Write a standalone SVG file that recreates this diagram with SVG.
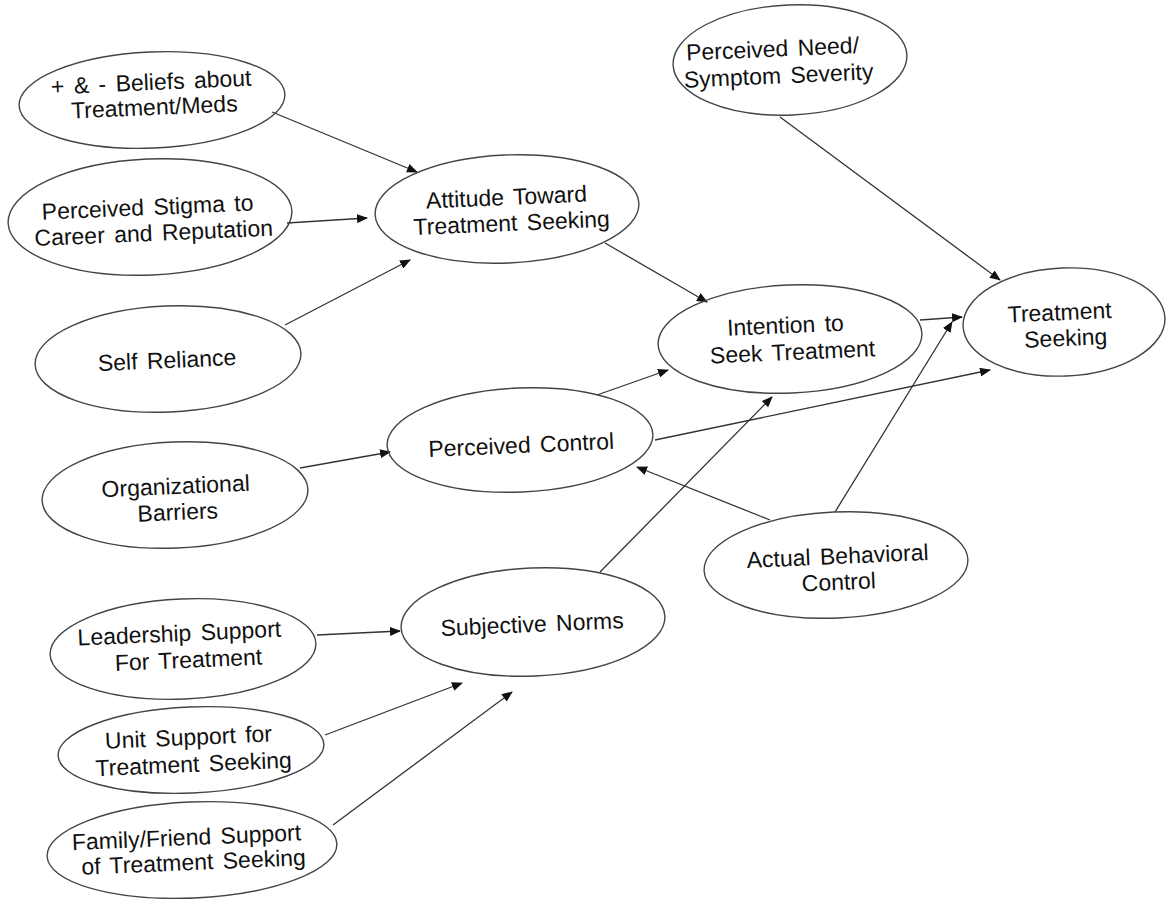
<svg xmlns="http://www.w3.org/2000/svg" width="1171" height="899" viewBox="0 0 1171 899">
<style>
.n ellipse{fill:none;stroke:#444;stroke-width:1.4}
.n text{font-family:"Liberation Sans",Arial,sans-serif;font-size:23px;fill:#111;text-anchor:middle;word-spacing:3px}
.e line{stroke:#333;stroke-width:1.3;marker-end:url(#ah)}
</style>
<defs>
<marker id="ah" markerUnits="userSpaceOnUse" markerWidth="11" markerHeight="9" refX="10" refY="4.5" orient="auto">
<path d="M0,0 L11,4.5 L0,9 Z" fill="#111"/>
</marker>
</defs>
<rect width="1171" height="899" fill="#fff"/>
<g id="connectors" class="e">
<line x1="272" y1="112" x2="417" y2="172"/>
<line x1="287" y1="223" x2="367" y2="218"/>
<line x1="285" y1="325" x2="410" y2="260"/>
<line x1="605" y1="243" x2="707" y2="302"/>
<line x1="597" y1="395" x2="668" y2="370"/>
<line x1="655" y1="440" x2="990" y2="370"/>
<line x1="770" y1="520" x2="637" y2="467"/>
<line x1="835" y1="512" x2="952" y2="322"/>
<line x1="920" y1="320" x2="962" y2="317"/>
<line x1="780" y1="117" x2="1000" y2="280"/>
<line x1="600" y1="572" x2="772" y2="397"/>
<line x1="300" y1="468" x2="390" y2="452"/>
<line x1="317" y1="635" x2="400" y2="631"/>
<line x1="325" y1="735" x2="462" y2="683"/>
<line x1="333" y1="825" x2="512" y2="692"/>
</g>
<g id="beliefs" class="n" transform="rotate(-2.5 152 100)">
<ellipse cx="152" cy="100" rx="133" ry="48"/>
<text x="152" y="90">+ &amp; - Beliefs about</text>
<text x="154" y="115">Treatment/Meds</text>
</g>
<g id="stigma" class="n" transform="rotate(-2.5 150 217)">
<ellipse cx="150" cy="217" rx="142" ry="58"/>
<text x="148" y="215">Perceived Stigma to</text>
<text x="153" y="241">Career and Reputation</text>
</g>
<g id="self-reliance" class="n" transform="rotate(-2.5 168 359)">
<ellipse cx="168" cy="359" rx="133" ry="53"/>
<text x="167" y="368">Self Reliance</text>
</g>
<g id="attitude" class="n" transform="rotate(-2.5 507 209)">
<ellipse cx="507" cy="209" rx="132" ry="54"/>
<text x="507" y="205">Attitude Toward</text>
<text x="511" y="231">Treatment Seeking</text>
</g>
<g id="perceived-need" class="n" transform="rotate(-2.5 790 60)">
<ellipse cx="790" cy="60" rx="117" ry="55"/>
<text x="773" y="56">Perceived Need/</text>
<text x="778" y="83">Symptom Severity</text>
</g>
<g id="treatment-seeking" class="n" transform="rotate(-2.5 1064 322)">
<ellipse cx="1064" cy="322" rx="101" ry="54"/>
<text x="1060" y="320">Treatment</text>
<text x="1065" y="346">Seeking</text>
</g>
<g id="intention" class="n" transform="rotate(-2.5 790 339)">
<ellipse cx="790" cy="339" rx="132" ry="54"/>
<text x="786" y="333">Intention to</text>
<text x="792" y="360">Seek Treatment</text>
</g>
<g id="perceived-control" class="n" transform="rotate(-2.5 520 440)">
<ellipse cx="520" cy="440" rx="133" ry="52"/>
<text x="521" y="453">Perceived Control</text>
</g>
<g id="org-barriers" class="n" transform="rotate(-2.5 175 495)">
<ellipse cx="175" cy="495" rx="133" ry="53"/>
<text x="176" y="494">Organizational</text>
<text x="177" y="520">Barriers</text>
</g>
<g id="actual-control" class="n" transform="rotate(-2.5 836 565)">
<ellipse cx="836" cy="565" rx="132" ry="53"/>
<text x="838" y="564">Actual Behavioral</text>
<text x="838" y="590">Control</text>
</g>
<g id="subjective-norms" class="n" transform="rotate(-2.5 533 622)">
<ellipse cx="533" cy="622" rx="132" ry="54"/>
<text x="532" y="632">Subjective Norms</text>
</g>
<g id="leadership" class="n" transform="rotate(-2.5 183 649)">
<ellipse cx="183" cy="649" rx="133" ry="50"/>
<text x="180" y="641">Leadership Support</text>
<text x="188" y="668">For Treatment</text>
</g>
<g id="unit-support" class="n" transform="rotate(-2.5 191 750)">
<ellipse cx="191" cy="750" rx="133" ry="43"/>
<text x="189" y="745">Unit Support for</text>
<text x="193" y="772">Treatment Seeking</text>
</g>
<g id="family-support" class="n" transform="rotate(-2.5 192 850)">
<ellipse cx="192" cy="850" rx="145" ry="48"/>
<text x="187" y="845">Family/Friend Support</text>
<text x="193" y="870">of Treatment Seeking</text>
</g>
</svg>
